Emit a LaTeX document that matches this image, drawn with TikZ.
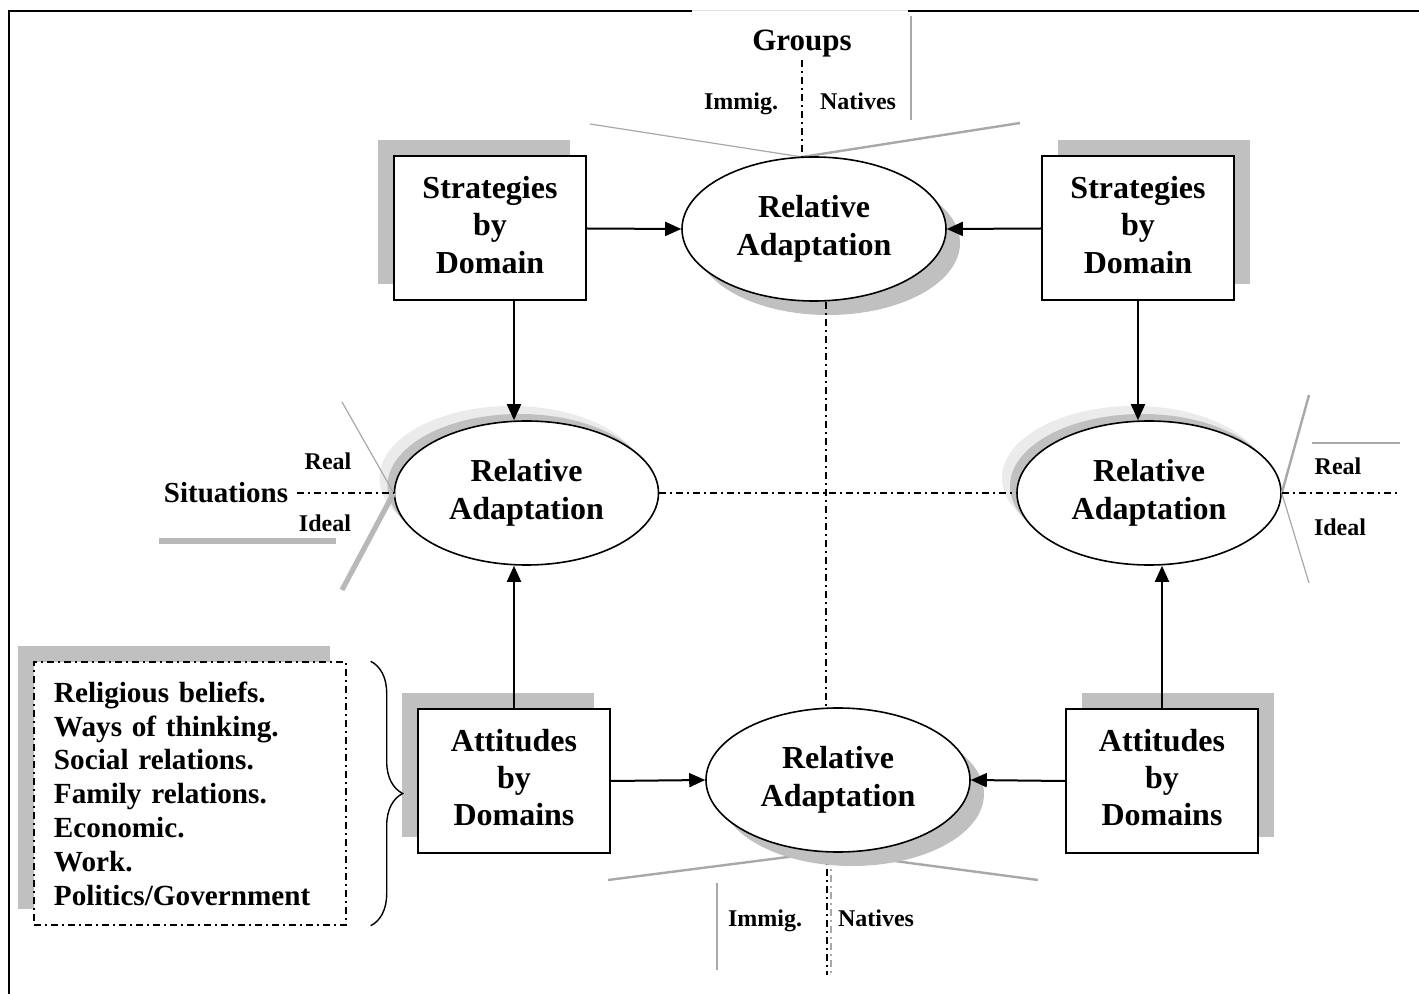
\documentclass[tikz,border=0pt]{standalone}
\usepackage{fontspec}
\setmainfont{Liberation Serif}
\usetikzlibrary{arrows.meta,shadows,decorations.pathreplacing,calc,shapes.geometric}

\definecolor{shade}{HTML}{C0C0C0}
\definecolor{paleshade}{HTML}{EBEBEB}
\definecolor{rulegray}{HTML}{A8A8A8}
\definecolor{barbgray}{HTML}{B8B8B8}

% centred stack of lines, lifted a little inside its shape
\newcommand{\liftedstack}[2][2pt]{\raisebox{#1}{\begin{tabular}{@{}c@{}}#2\end{tabular}}}

\begin{document}
\begin{tikzpicture}[x=0.5pt,y=-0.5pt,
  base/.style={font=\fontsize{16}{18.6}\selectfont\bfseries, align=center},
  stratbox/.style={base, draw, line width=1pt, fill=white,
    minimum width=96pt, minimum height=72pt, inner sep=0pt},
  adapt/.style={base, ellipse, draw, line width=0.8pt, fill=white,
    minimum width=132pt, minimum height=72pt, inner sep=0pt},
  shadeNW/.style={general shadow={fill=shade, shadow xshift=-8pt, shadow yshift=8pt}},
  shadeNE/.style={general shadow={fill=shade, shadow xshift=8pt, shadow yshift=8pt}},
  shadeSE/.style={general shadow={fill=shade, shadow xshift=7pt, shadow yshift=-7pt}},
  halo/.style={general shadow={fill=paleshade, shadow xshift=-7.5pt, shadow yshift=7.5pt},
               general shadow={fill=shade, shadow xshift=-3.5pt, shadow yshift=3.5pt}},
  listbox/.style={draw, line width=0.6pt, dd, fill=white, align=left,
    text width=136pt, inner xsep=10pt, inner ysep=0pt, minimum height=131.5pt,
    font=\fontsize{14.6}{16.9}\selectfont\bfseries},
  arr/.style={line width=1pt, -{Triangle[length=8pt,width=7pt]}},
  dd/.style={line width=0.7pt, dash pattern=on 3.5pt off 2pt on 1pt off 2pt},
  ddgray/.style={dd, draw=rulegray, line width=0.6pt},
  big/.style={font=\fontsize{14.5}{17}\selectfont\bfseries},
  small/.style={font=\fontsize{12}{14}\selectfont\bfseries, anchor=base},
  thinrule/.style={draw=rulegray, line width=0.6pt},
  midrule/.style={draw=rulegray, line width=1.2pt},
  thickrule/.style={draw=barbgray, line width=2.6pt},
]
\useasboundingbox (0,0) rectangle (1419,994);

% page frame, open at the top where the group labels sit
\draw[line width=1pt] (692,11) -- (9,11) -- (9,994);
\draw[line width=1pt] (908,11) -- (1419,11);
\draw[line width=0.5pt, black!12] (692,11) -- (908,11);

% free ends of the decorative rules
\coordinate (tj) at (802,157);
\coordinate (tjTop) at (802,60);
\coordinate (tL) at (590,124);
\coordinate (tR) at (1020,123);
\coordinate (bj) at (827,852);
\coordinate (bL) at (608,880);
\coordinate (bR) at (1038,880);

% group / situation markers
\draw[midrule] (911,16) -- (911,120);
\draw[thinrule] (tL) -- (tj);
\draw[midrule] (tj) -- (tR);
\draw[dd] (tjTop) -- (tj);

\draw[midrule] (bL) -- (bj) -- (bR);
\draw[midrule] (717,883) -- (717,970);
\draw[dd] (bj) -- (827,975);
\draw[ddgray] (831,858) -- (831,975);

\draw[thickrule] (159,541) -- (336,541);
\draw[midrule] (1312,443) -- (1400,443);

% main nodes
\node[stratbox, shadeNW] (sl) at (490,228.5) {\liftedstack{Strategies\\by\\Domain}};
\node[stratbox, shadeNE] (sr) at (1138,228.5) {\liftedstack{Strategies\\by\\Domain}};
\node[stratbox, shadeNW] (al) at (514,781) {\liftedstack{Attitudes\\by\\Domains}};
\node[stratbox, shadeNE] (ar) at (1162,781) {\liftedstack{Attitudes\\by\\Domains}};

\node[adapt, shadeSE] (rt) at (814,229) {\liftedstack[1.2pt]{Relative\\Adaptation}};
\node[adapt, shadeSE] (rb) at (838,780) {\liftedstack[1.2pt]{Relative\\Adaptation}};
\node[adapt, halo] (rl) at (526.5,493) {\liftedstack[1.2pt]{Relative\\Adaptation}};
\node[adapt, halo] (rr) at (1149,493) {\liftedstack[1.2pt]{Relative\\Adaptation}};

% situation rules touching the side ellipses
\draw[thinrule] (342,402) -- (rl.west);
\draw[thickrule] (rl.west) -- (342,590);
\draw[midrule] (rr.east) -- (1309,395);
\draw[thinrule] (rr.east) -- (1309,583);

% labels
\node[font=\fontsize{15.5}{18}\selectfont\bfseries] (grp) at (802,44) {Groups};
\node[small] (imT) at (741,110) {Immig.};
\node[small] (naT) at (858,110) {Natives};
\node[small] (imB) at (765,926) {Immig.};
\node[small] (naB) at (876,926) {Natives};
\node[big, inner sep=4.5pt] (sit) at (226,493) {Situations};
\node[small] (reL) at (328,470) {Real};
\node[small] (idL) at (325,531) {Ideal};
\node[small] (reR) at (1338,474) {Real};
\node[small] (idR) at (1340,535) {Ideal};

% axes through the ellipses
\coordinate (mid) at ($(rt.south)!0.5!(rb.north)$);
\coordinate (rEnd) at (1400,493);
\draw[dd] (mid |- rt.south) -- (mid |- rb.north);
\draw[dd] (rl.east) -- (rr.west);
\draw[dd] (sit.east) -- (rl.west);
\draw[dd] (rr.east) -- (rEnd);

% arrows
\draw[arr] (sl.east) -- (rt.west);
\draw[arr] (sr.west) -- (rt.east);
\draw[arr] (al.east) -- (rb.west);
\draw[arr] (ar.west) -- (rb.east);
\draw[arr] (sl.south -| al.north) -- (al.north |- rl.north);
\draw[arr] (sr.south) -- (sr.south |- rr.north);
\draw[arr] (al.north) -- (al.north |- rl.south);
\draw[arr] (ar.north) -- (ar.north |- rr.south);

% domain list with its brace
\node[listbox, shadeNW] (dom) at (190,793.5) {Religious beliefs.\\Ways of thinking.\\Social relations.\\Family relations.\\Economic.\\Work.\\Politics/Government};
\draw[line width=0.7pt, decorate, decoration={brace, amplitude=16pt}]
  ([xshift=12pt]dom.north east) -- ([xshift=12pt]dom.south east);
\end{tikzpicture}
\end{document}
